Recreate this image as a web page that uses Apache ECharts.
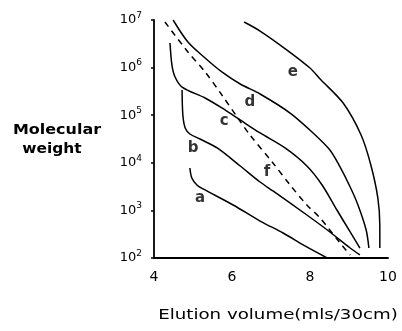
<!DOCTYPE html>
<html><head><meta charset="utf-8">
<script src="https://cdn.jsdelivr.net/npm/echarts@6/dist/echarts.min.js"></script>
<style>html,body{margin:0;padding:0;background:#fff}#c{width:402px;height:331px}</style>
</head><body><div id="c"></div>
<script>
// Elution volume (mls/30cm) vs molecular weight
const curveA = [[4.92,7.78e3],[4.97,4.79e3],[5.10,3.42e3],[5.26,2.82e3],[6.03,1.30e3],[6.72,598],[7.31,335],[7.87,179],[8.44,100]];
const curveB = [[4.72,3.38e5],[4.74,1.01e5],[4.80,5.38e4],[4.92,4.03e4],[5.18,3.16e4],[5.62,2.05e4],[6.21,8.57e3],[6.72,3.95e3],[7.05,2.56e3],[7.92,800],[8.51,352],[9.03,162],[9.28,116]];
const curveC = [[4.41,3.29e6],[4.46,1.13e6],[4.54,6.34e5],[4.72,3.91e5],[5.31,2.30e5],[5.74,1.42e5],[6.21,7.93e4],[6.72,4.23e4],[7.36,2.05e4],[7.92,8.57e3],[8.31,3.42e3],[8.69,1.02e3],[9.03,352],[9.28,162]];
const curveD = [[4.49,1.0e7],[4.87,3.45e6],[5.31,1.59e6],[5.74,8.1e5],[6.21,4.52e5],[6.72,2.79e5],[7.49,1.11e5],[8.08,4.23e4],[8.51,1.86e4],[8.77,8.2e3],[9.03,3.1e3],[9.23,1.30e3],[9.44,387],[9.51,162]];
const curveE = [[6.31,9.08e6],[6.72,5.87e6],[7.41,2.34e6],[8.00,9.8e5],[8.26,5.75e5],[8.85,1.80e5],[9.31,3.84e4],[9.56,9.0e3],[9.74,1.82e3],[9.79,493],[9.79,162]];
const curveF = [[4.28,9.08e6],[4.87,2.13e6],[5.31,8.1e5],[5.74,2.66e5],[6.15,8.73e4],[6.46,3.84e4],[7.05,9.9e3],[7.49,3.42e3],[7.92,1.30e3],[8.26,692],[8.77,207],[9.03,116]];
const curveLabels = [['a',5.18,1.8e3],['b',5.0,2.0e4],['c',5.80,7.5e4],['d',6.46,1.9e5],['e',7.56,8.1e5],['f',6.9,6.4e3]];
const xTicks = [4,6,8,10];
const yExponents = [2,3,4,5,6,7];
const xTitle = 'Elution volume(mls/30cm)';
const yTitle = ['Molecular','weight'];

const FONT = 'DejaVu Sans';
const chart = echarts.init(document.getElementById('c'), null, {renderer:'canvas'});
function line(name, data, dashed){
  return {name, type:'line', data, smooth:0.3, symbol:'none', z:3,
    lineStyle:{color:'#000', width:1.5, type: dashed ? [6,5] : 'solid'}};
}
chart.setOption({
  animation:false,
  backgroundColor:'#fff',
  grid:{left:154, top:20, width:234, height:238},
  xAxis:{type:'value', min:xTicks[0], max:xTicks[xTicks.length-1], interval:2,
    axisLine:{show:true, lineStyle:{color:'#000', width:1.8}},
    axisTick:{show:false}, splitLine:{show:false},
    axisLabel:{color:'#000', fontFamily:FONT, fontSize:14, margin:12,
      formatter:v => xTicks.includes(v) ? String(v) : ''}},
  yAxis:{type:'log', logBase:10, min:Math.pow(10,yExponents[0]), max:Math.pow(10,yExponents[yExponents.length-1]),
    axisLine:{show:true, lineStyle:{color:'#000', width:1.8}},
    axisTick:{show:true, length:3, lineStyle:{color:'#000', width:1.5}},
    splitLine:{show:false}, minorTick:{show:false},
    axisLabel:{color:'#000', margin:12,
      formatter:v => '{b|10}{s|' + Math.round(Math.log10(v)) + '}',
      rich:{b:{fontFamily:FONT, fontSize:13, color:'#000'},
            s:{fontFamily:FONT, fontSize:9, color:'#000', verticalAlign:'top', padding:[0,0,9,0]}}}},
  series:[
    line('a', curveA), line('b', curveB), line('c', curveC),
    line('d', curveD), line('e', curveE), line('f', curveF, true),
    {type:'scatter', symbolSize:0, z:5,
     data: curveLabels.map(l => ({name:l[0], value:[l[1], l[2]]})),
     label:{show:true, position:'inside', formatter:p => p.name,
       fontFamily:FONT, fontSize:15, fontWeight:'bold', color:'#000'}}
  ],
  graphic:[
    {type:'text', x:57, y:130, scaleX:1.14, style:{text:yTitle[0], font:'bold 14px "DejaVu Sans"', fill:'#000', align:'center', verticalAlign:'middle'}},
    {type:'text', x:52, y:149, scaleX:1.1, style:{text:yTitle[1], font:'bold 14px "DejaVu Sans"', fill:'#000', align:'center', verticalAlign:'middle'}},
    {type:'text', x:278, y:315, scaleX:1.3, style:{text:xTitle, font:'14px "DejaVu Sans"', fill:'#000', align:'center', verticalAlign:'middle'}}
  ]
});
</script></body></html>
